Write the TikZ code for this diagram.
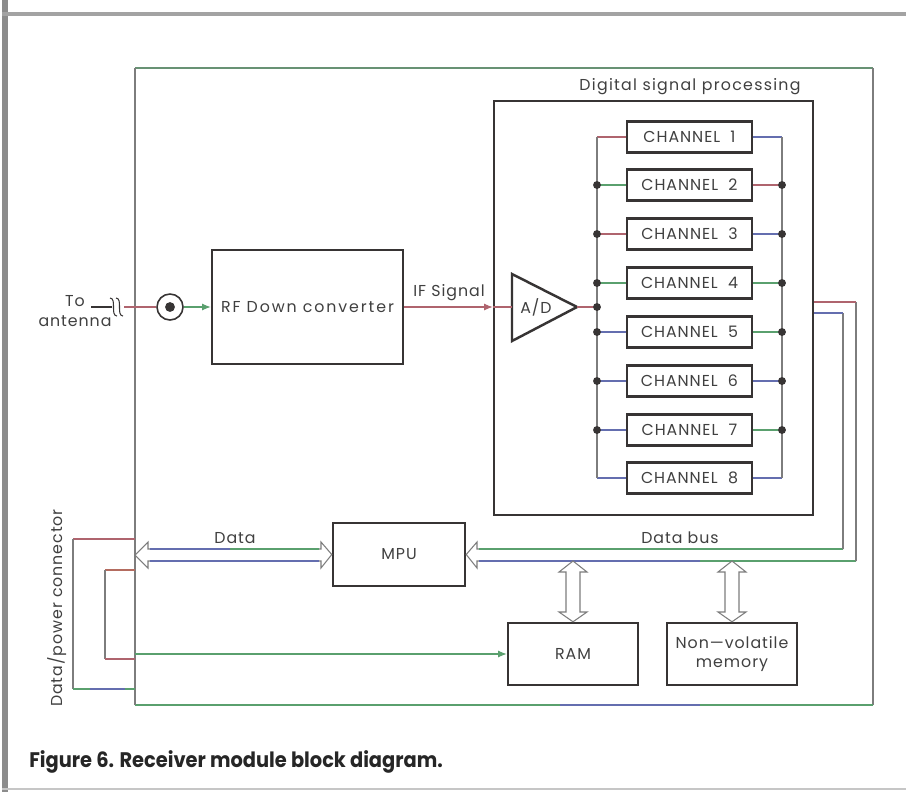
\documentclass[tikz,border=0pt]{standalone}
\usepackage{fontspec}
\setmainfont{Poppins}
\newfontfamily\diagfont[LetterSpace=6]{Poppins}
\usetikzlibrary{arrows.meta,calc}
\definecolor{boxc}{RGB}{55,52,52}
\definecolor{wk}{RGB}{125,125,125}
\definecolor{wr}{RGB}{175,100,110}
\definecolor{wg}{RGB}{90,160,110}
\definecolor{wb}{RGB}{100,110,175}
\definecolor{framec}{RGB}{140,140,140}
\begin{document}
\begin{tikzpicture}[x=0.02cm,y=-0.02cm,
  blk/.style={draw=boxc,line width=1.4pt,fill=white,inner sep=0pt,font=\diagfont\fontsize{9}{11}\selectfont,text=black!75,align=center},
  chan/.style={blk,minimum width=2.5cm,minimum height=0.62cm},
  wire/.style={line width=0.6pt},
  lbl/.style={font=\diagfont\fontsize{9}{10}\selectfont,text=black!75,inner sep=0pt},
  bdot/.style={circle,fill=boxc,inner sep=0pt,minimum size=4.5pt},
  hollow/.style={draw=wk,line width=0.6pt,fill=white,line join=miter},
  tipa/.style={-{Latex[length=5pt,width=4pt]}}
]
\useasboundingbox (0,0) rectangle (906,792);
\fill[white] (0,0) rectangle (906,792);
\fill[framec] (2,0) rectangle (8,792);
\fill[framec!80] (2,12) rectangle (906,16);
\draw[framec!50,line width=1pt] (2,789) -- (906,789);

% outer box
\coordinate (oTL) at (135,68);
\coordinate (oTR) at (873,68);
\coordinate (oBR) at (873,705);
\coordinate (oBL) at (135,705);
\draw[wire,wg!60!wk] (oTL) -- (oTR);
\draw[wire,wk] (oTR) -- (oBR);
\draw[wire,wg] (oBR) -- (oBL);
\draw[wire,wb] (560,705) -- (700,705);
\draw[wire,wk] (oBL) -- (oTL);

% DSP
\node[blk,minimum width=6.38cm,minimum height=8.28cm] (dsp) at (653.5,308) {};
\node[lbl] (dsplbl) at (690,87) {\addfontfeatures{LetterSpace=8}Digital signal processing};

\foreach \i/\y/\lc/\rc in {1/137/wr/wb, 2/185/wg/wr, 3/234/wr/wb, 4/283/wg/wg, 5/332/wb/wg, 6/381/wb/wb, 7/430/wb/wg, 8/478/wb/wb} {
  \node[chan] (c\i) at (689.5,\y) {CHANNEL\ \ \i};
  \coordinate (l\i) at (597,\y);
  \coordinate (r\i) at (782,\y);
  \draw[wire,\lc] (l\i) -- (c\i.west);
  \draw[wire,\rc] (c\i.east) -- (r\i);
}
\draw[wire,wk] (l1) -- (l8);
\draw[wire,wk] (r1) -- (r8);
\foreach \i in {2,...,7} { \node[bdot] at (l\i) {}; \node[bdot] at (r\i) {}; }

% A/D
\coordinate (adA) at (512,274);
\coordinate (adB) at (512,341);
\coordinate (adO) at (577,307);
\coordinate (adI) at (512,307);
\draw[boxc,line width=1.4pt,fill=white,line join=miter] (adA) -- (adO) -- (adB) -- cycle;
\node[lbl] (ad) at (536,307) {A/D};
\coordinate (adj) at (597,307);
\draw[wire,wr] (adO) -- (adj);
\node[bdot] at (adj) {};

% RF
\node[blk,minimum width=3.82cm,minimum height=2.28cm] (rf) at (307.5,307) {\addfontfeatures{LetterSpace=12}RF Down converter};
\coordinate (ifin) at (dsp.west |- rf.east);
\draw[wire,wr,tipa] (rf.east) -- (ifin);
\draw[wire,wr] (ifin) -- (adI);
\node[lbl,anchor=south] (iflbl) at (449,301) {IF Signal};

% antenna
\node[lbl] (to) at (75,301) {To};
\node[lbl] (antt) at (75,321) {antenna};
\coordinate (a0) at (91,307);
\coordinate (a1) at (112,307);
\draw[wire,boxc] (a0) -- (a1);
\draw[wire,boxc] (110,298) .. controls (117,298) and (110,316) .. (117,316);
\draw[wire,boxc] (116,298) .. controls (123,298) and (116,316) .. (123,316);
\node[circle,draw=boxc,line width=0.9pt,minimum size=0.52cm,inner sep=0pt] (jack) at (170,307) {};
\fill[boxc] (jack.center) circle (2.8pt);
\coordinate (a2) at (124,307);
\draw[wire,wr] (a2) -- (jack.west);
\draw[wire,wg,tipa] (jack.east) -- (rf.west);

% connector wires
\coordinate (p1) at (135,539);
\coordinate (p1b) at (73,539);
\coordinate (p1c) at (73,689);
\coordinate (p1d) at (135,689);
\draw[wire,wr] (p1) -- (p1b);
\draw[wire,wk] (p1b) -- (p1c);
\draw[wire,wg] (p1c) -- (p1d);
\draw[wire,wb] (90,689) -- (125,689);
\coordinate (p2) at (135,570);
\coordinate (p2b) at (105,570);
\coordinate (p2c) at (105,659);
\coordinate (p2d) at (135,659);
\draw[wire,wr!70!brown] (p2) -- (p2b);
\draw[wire,wk] (p2b) -- (p2c);
\draw[wire,wr] (p2c) -- (p2d);
\node[lbl,rotate=90] (conlbl) at (57,608) {Data/power connector};

% MPU
\node[blk,minimum width=2.64cm,minimum height=1.26cm] (mpu) at (399,554.5) {MPU};
% Data double arrow
\draw[hollow] (135,555) -- (148,542) -- (148,549) -- (321,549) -- (321,542) -- (mpu.west) -- (321,568) -- (321,561) -- (148,561) -- (148,568) -- cycle;
\draw[wire,wb] (150,549) -- (230,549);
\draw[wire,wg] (230,549) -- (319,549);
\draw[wire,wb] (150,561) -- (319,561);
\node[lbl] (datalbl) at (235,538) {Data};

% Data bus
\coordinate (d1) at (dsp.east |- 0,302);
\coordinate (d2) at (dsp.east |- 0,313);
\coordinate (b1) at (856,302);
\coordinate (b2) at (843,313);
\coordinate (b1d) at (856,561);
\coordinate (b2d) at (843,549);
\draw[wire,wk,line join=miter] (b2d) -- (477,549) -- (477,542) -- (mpu.east) -- (477,568) -- (477,561) -- (b1d);
\draw[wire,wg] (b2d) -- (479,549);
\draw[wire,wg] (b1d) -- (700,561);
\draw[wire,wb] (700,561) -- (479,561);
\draw[wire,wk] (b2d) -- (b2);
\draw[wire,wk] (b1d) -- (b1);
\draw[wire,wr] (d1) -- (b1);
\draw[wire,wb] (d2) -- (b2);
\node[lbl] (buslbl) at (680,538) {Data bus};

% RAM & NV
\node[blk,minimum width=2.6cm,minimum height=1.24cm] (ram) at (573,654) {RAM};
\node[blk,minimum width=2.6cm,minimum height=1.24cm] (nv) at (732,654) {Non—volatile\\memory};
\draw[hollow] (573,561) -- (587,572) -- (580,572) -- (580,612) -- (587,612) -- (ram.north) -- (559,612) -- (566,612) -- (566,572) -- (559,572) -- cycle;
\draw[hollow] (732,561) -- (746,572) -- (739,572) -- (739,612) -- (746,612) -- (nv.north) -- (718,612) -- (725,612) -- (725,572) -- (718,572) -- cycle;
\coordinate (rin) at (135,654);
\draw[wire,wg,tipa] (rin) -- (ram.west);

% caption
\node[anchor=west,inner sep=0pt,text=black!85] (cap) at (29,762) {\scalebox{0.92}[1]{\bfseries\fontsize{12}{14}\selectfont Figure 6. Receiver module block diagram.}};
\end{tikzpicture}
\end{document}
